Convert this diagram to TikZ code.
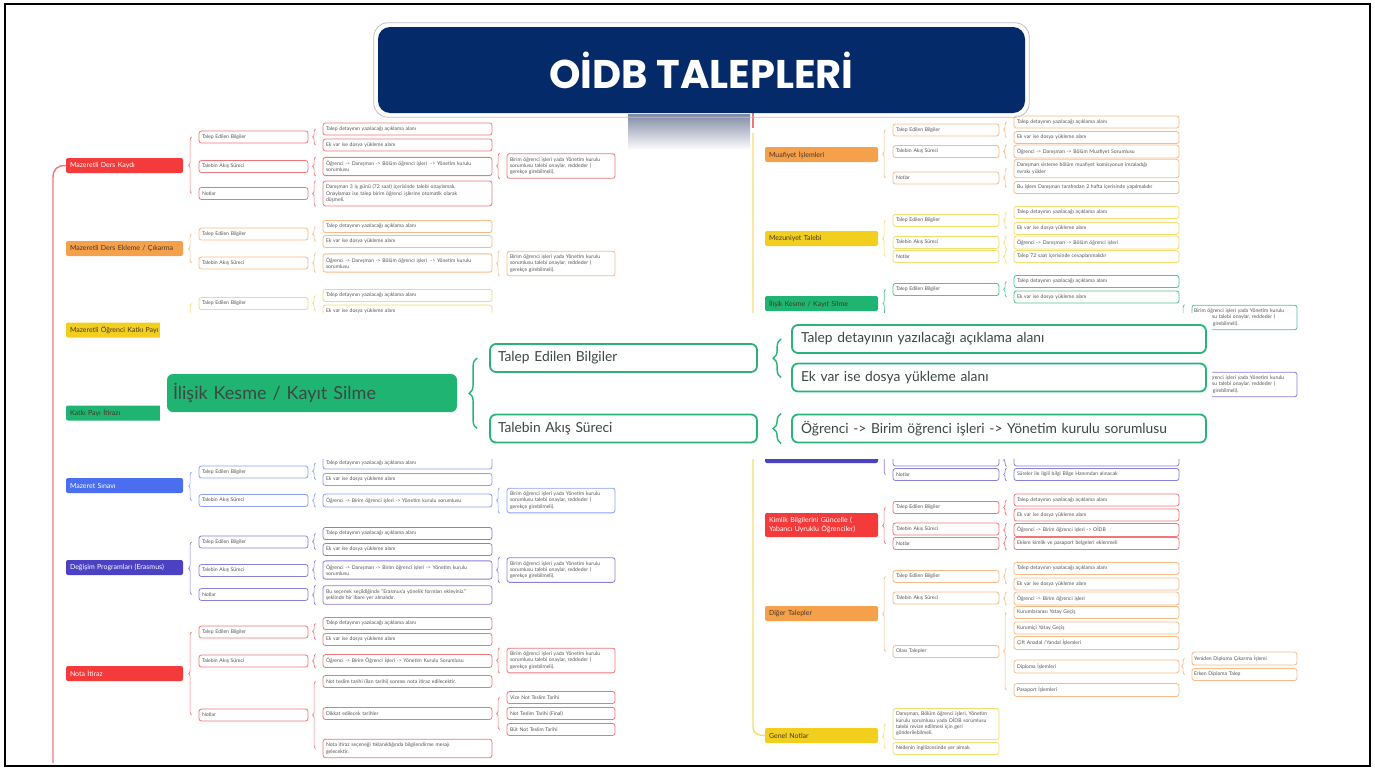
\documentclass[tikz,border=0pt]{standalone}
\usepackage{fontspec}
\setmainfont{Lato}
\newfontfamily\titlefont{Poppins}
\usepackage{tikz}
\usetikzlibrary{calc,shapes,backgrounds,positioning,decorations.pathreplacing}
\definecolor{navy}{RGB}{5,42,105}
\definecolor{redbr}{RGB}{244,58,58}
\definecolor{redln}{RGB}{240,118,122}
\definecolor{orgbr}{RGB}{245,160,75}
\definecolor{orgln}{RGB}{247,186,135}
\definecolor{ylwbr}{RGB}{242,207,30}
\definecolor{ylwln}{RGB}{244,220,110}
\definecolor{grnbr}{RGB}{32,180,115}
\definecolor{grnln}{RGB}{80,196,145}
\definecolor{grnov}{RGB}{40,180,120}
\definecolor{blubr}{RGB}{75,110,240}
\definecolor{bluln}{RGB}{140,160,240}
\definecolor{indbr}{RGB}{75,65,195}
\definecolor{indln}{RGB}{135,128,218}
\definecolor{txtgray}{RGB}{85,85,85}
\definecolor{brtxt}{RGB}{70,55,40}
\definecolor{ovtxt}{RGB}{60,72,66}
\definecolor{gradtop}{RGB}{128,138,165}
\newcommand{\fsm}{\fontsize{5.1}{6.3}\selectfont}
\newcommand{\fmain}{\fontsize{7}{9}\selectfont}
\newcommand{\fov}{\fontsize{13.8}{16}\selectfont}
\newcommand{\brmany}[3]{\draw[brc=#1] ([xshift=-7pt]#3.west) -- ([xshift=-7pt]#2.west);}
\newcommand{\brone}[2]{\draw[brc=#1] ([xshift=-7pt]#2.south west) -- ([xshift=-7pt]#2.north west);}

\begin{document}
\begin{tikzpicture}[x=1pt,y=-1pt,
  lmain/.style={fill=#1, rounded corners=2pt, text width=109pt, inner xsep=4pt, inner ysep=3pt, minimum height=15pt, align=left, font=\fmain},
  rmain/.style={lmain=#1, text width=105pt},
  sub/.style={draw=#1, fill=white, line width=0.8pt, rounded corners=2.5pt, inner xsep=3pt, inner ysep=3.7pt, minimum height=12pt, align=left, font=\fsm, text=txtgray},
  lvtwo/.style={text width=103pt},
  lvthree/.style={text width=163pt},
  lvfour/.style={text width=102pt},
  rvtwo/.style={text width=100pt},
  rvthree/.style={text width=159pt},
  rvfour/.style={text width=101pt, inner xsep=2pt},
  brc/.style={decorate, decoration={brace, amplitude=3pt}, draw=#1, line width=0.7pt},
  trunk/.style={draw=#1, line width=1.4pt},
  ovmain/.style={fill=grnbr, rounded corners=6pt, text width=278pt, inner xsep=6pt, minimum height=38pt, align=left, font=\fontsize{18}{20}\selectfont, text=ovtxt},
  ovbox/.style={draw=grnov, line width=1.8pt, fill=white, rounded corners=6pt, inner xsep=8pt, minimum height=28pt, align=left, font=\fov, text=ovtxt},
  obrc/.style={decorate, decoration={brace, amplitude=8pt}, draw=grnov, line width=1.4pt},
  titlebox/.style={fill=navy, rounded corners=12pt, minimum width=647pt, minimum height=86pt, text=white, font=\titlefont\bfseries\fontsize{40}{44}\selectfont},
 ]
\useasboundingbox (0,0) rectangle (1375,771);

\node[lmain=redbr, text=white] (dk) at (124.5,165.5) {Mazeretli Ders Kaydı};
\node[lmain=orgbr, text=brtxt] (de) at (124.5,248.5) {Mazeretli Ders Ekleme / Çıkarma};
\node[lmain=ylwbr, text=brtxt] (kp) at (124.5,330) {Mazeretli Öğrenci Katkı Payı};
\node[lmain=grnbr, text=brtxt] (ki) at (124.5,413) {Katkı Payı İtirazı};
\node[lmain=blubr, text=white] (ms) at (124.5,485.5) {Mazeret Sınavı};
\node[lmain=indbr, text=white] (dp) at (124.5,567.5) {Değişim Programları (Erasmus)};
\node[lmain=redbr, text=white] (ni) at (124.5,673.5) {Nota İtiraz};

\node[sub=redln, lvtwo] (dk1) at (253.5,137) {Talep Edilen Bilgiler};
\node[sub=redln, lvtwo] (dk2) at (253.5,166.5) {Talebin Akış Süreci};
\node[sub=redln, lvtwo] (dk3) at (253.5,193.5) {Notlar};
\node[sub=orgln, lvtwo] (de1) at (253.5,234) {Talep Edilen Bilgiler};
\node[sub=orgln, lvtwo] (de2) at (253.5,263) {Talebin Akış Süreci};
\node[sub=ylwln, lvtwo] (kp1) at (253.5,303.5) {Talep Edilen Bilgiler};
\node[sub=bluln, lvtwo] (ms1) at (253.5,472) {Talep Edilen Bilgiler};
\node[sub=bluln, lvtwo] (ms2) at (253.5,500.5) {Talebin Akış Süreci};
\node[sub=indln, lvtwo] (dp1) at (253.5,542) {Talep Edilen Bilgiler};
\node[sub=indln, lvtwo] (dp2) at (253.5,570.5) {Talebin Akış Süreci};
\node[sub=indln, lvtwo] (dp3) at (253.5,594.5) {Notlar};
\node[sub=redln, lvtwo] (ni1) at (253.5,632) {Talep Edilen Bilgiler};
\node[sub=redln, lvtwo] (ni2) at (253.5,661) {Talebin Akış Süreci};
\node[sub=redln, lvtwo] (ni3) at (253.5,715) {Notlar};

\node[sub=redln, lvthree] (dk11) at (407.5,129) {Talep detayının yazılacağı açıklama alanı};
\node[sub=redln, lvthree] (dk12) at (407.5,145) {Ek var ise dosya yükleme alanı};
\node[sub=redln, lvthree] (dk21) at (407.5,166.5) {Öğrenci -> Danışman -> Bölüm öğrenci işleri \ -> Yönetim kurulu\\sorumlusu};
\node[sub=redln, lvthree] (dk31) at (407.5,193.5) {Danışman 3 iş günü (72 saat) içerisinde talebi onaylamalı.\\Onaylamaz ise talep birim öğrenci işlerine otomatik olarak\\düşmeli.};
\node[sub=orgln, lvthree] (de11) at (407.5,226.5) {Talep detayının yazılacağı açıklama alanı};
\node[sub=orgln, lvthree] (de12) at (407.5,241.5) {Ek var ise dosya yükleme alanı};
\node[sub=orgln, lvthree] (de21) at (407.5,263) {Öğrenci -> Danışman -> Bölüm öğrenci işleri \ -> Yönetim kurulu\\sorumlusu};
\node[sub=ylwln, lvthree] (kp11) at (407.5,295.5) {Talep detayının yazılacağı açıklama alanı};
\node[sub=ylwln, lvthree] (kp12) at (407.5,311) {Ek var ise dosya yükleme alanı};
\node[sub=bluln, lvthree] (ms11) at (407.5,463) {Talep detayının yazılacağı açıklama alanı};
\node[sub=bluln, lvthree] (ms12) at (407.5,479.5) {Ek var ise dosya yükleme alanı};
\node[sub=bluln, lvthree] (ms21) at (407.5,500.5) {Öğrenci -> Birim öğrenci işleri -> Yönetim kurulu sorumlusu};
\node[sub=indln, lvthree] (dp11) at (407.5,533.5) {Talep detayının yazılacağı açıklama alanı};
\node[sub=indln, lvthree] (dp12) at (407.5,549.5) {Ek var ise dosya yükleme alanı};
\node[sub=indln, lvthree] (dp21) at (407.5,570) {Öğrenci -> Danışman -> Birim öğrenci işleri -> Yönetim kurulu\\sorumlusu};
\node[sub=indln, lvthree] (dp31) at (407.5,595) {Bu seçenek seçildiğinde "Erasmus'a yönelik formları ekleyiniz."\\şeklinde bir ibare yer almalıdır.};
\node[sub=redln, lvthree] (ni11) at (407.5,623.5) {Talep detayının yazılacağı açıklama alanı};
\node[sub=redln, lvthree] (ni12) at (407.5,639.5) {Ek var ise dosya yükleme alanı};
\node[sub=redln, lvthree] (ni21) at (407.5,661) {Öğrenci -> Birim Öğrenci İşleri -> Yönetim Kurulu Sorumlusu};
\node[sub=redln, lvthree] (ni31) at (407.5,681.5) {Not teslim tarihi (ilan tarihi) sonrası nota itiraz edilecektir.};
\node[sub=redln, lvthree] (ni32) at (407.5,713.5) {Dikkat edilecek tarihler};
\node[sub=redln, lvthree] (ni33) at (407.5,748.5) {Nota itiraz seçeneği tıklanıldığında bilgilendirme mesajı\\gelecektir.};

\node[sub=redln, lvfour] (dk211) at (561,166) {Birim öğrenci işleri yada Yönetim kurulu\\sorumlusu talebi onaylar, reddeder (\\gerekçe girebilmeli).};
\node[sub=orgln, lvfour] (de211) at (561,263.5) {Birim öğrenci işleri yada Yönetim kurulu\\sorumlusu talebi onaylar, reddeder (\\gerekçe girebilmeli).};
\node[sub=bluln, lvfour] (ms211) at (561,500.5) {Birim öğrenci işleri yada Yönetim kurulu\\sorumlusu talebi onaylar, reddeder (\\gerekçe girebilmeli).};
\node[sub=indln, lvfour] (dp211) at (561,570) {Birim öğrenci işleri yada Yönetim kurulu\\sorumlusu talebi onaylar, reddeder (\\gerekçe girebilmeli).};
\node[sub=redln, lvfour] (ni211) at (561,660.5) {Birim öğrenci işleri yada Yönetim kurulu\\sorumlusu talebi onaylar, reddeder (\\gerekçe girebilmeli).};
\node[sub=redln, lvfour] (ni321) at (561,697.5) {Vize Not Teslim Tarihi};
\node[sub=redln, lvfour] (ni322) at (561,713.5) {Not Teslim Tarihi (Final)};
\node[sub=redln, lvfour] (ni323) at (561,729.5) {Büt Not Teslim Tarihi};

\node[rmain=orgbr, text=brtxt] (mi) at (821.5,154.5) {Muafiyet İşlemleri};
\node[rmain=ylwbr, text=brtxt] (mt) at (821.5,238.5) {Mezuniyet Talebi};
\node[rmain=grnbr, text=brtxt] (ik) at (821.5,303.5) {İlişik Kesme / Kayıt Silme};
\node[rmain=indbr] (hb) at (821.5,455.5) {};
\node[rmain=redbr, text=white, minimum height=24pt] (kb) at (821.5,525) {Kimlik Bilgilerini Güncelle (\\Yabancı Uyruklu Öğrenciler)};
\node[rmain=orgbr, text=brtxt] (dt) at (821.5,613.5) {Diğer Talepler};
\node[rmain=ylwbr, text=brtxt] (gn) at (821.5,735.5) {Genel Notlar};

\node[sub=orgln, rvtwo] (mi1) at (946,130) {Talep Edilen Bilgiler};
\node[sub=orgln, rvtwo] (mi2) at (946,151.5) {Talebin Akış Süreci};
\node[sub=orgln, rvtwo] (mi3) at (946,178) {Notlar};
\node[sub=ylwln, rvtwo] (mt1) at (946,220.5) {Talep Edilen Bilgiler};
\node[sub=ylwln, rvtwo] (mt2) at (946,242.5) {Talebin Akış Süreci};
\node[sub=ylwln, rvtwo] (mt3) at (946,256.5) {Notlar};
\node[sub=grnln, rvtwo] (ik1) at (946,289.5) {Talep Edilen Bilgiler};
\node[sub=indln, rvtwo] (hb1) at (946,460) {};
\node[sub=indln, rvtwo] (hb2) at (946,474.5) {Notlar};
\node[sub=redln, rvtwo] (kb1) at (946,507.5) {Talep Edilen Bilgiler};
\node[sub=redln, rvtwo] (kb2) at (946,529) {Talebin Akış Süreci};
\node[sub=redln, rvtwo] (kb3) at (946,543.5) {Notlar};
\node[sub=orgln, rvtwo] (dt1) at (946,576.5) {Talep Edilen Bilgiler};
\node[sub=orgln, rvtwo] (dt2) at (946,598) {Talebin Akış Süreci};
\node[sub=orgln, rvtwo] (dt3) at (946,651.5) {Olası Talepler};
\node[sub=ylwln, rvtwo] (gn1) at (946,724) {Danışman, Bölüm öğrenci işleri, Yönetim\\kurulu sorumlusu yada OİDB sorumlusu\\talebi revize edilmesi için geri\\gönderilebilmeli.};
\node[sub=ylwln, rvtwo] (gn2) at (946,748.5) {Nedenin ingilizcesinde yer almalı.};

\node[sub=orgln, rvthree] (mi11) at (1096.5,122) {Talep detayının yazılacağı açıklama alanı};
\node[sub=orgln, rvthree] (mi12) at (1096.5,137.5) {Ek var ise dosya yükleme alanı};
\node[sub=orgln, rvthree] (mi21) at (1096.5,151.5) {Öğrenci -> Danışman -> Bölüm Muafiyet Sorumlusu};
\node[sub=orgln, rvthree] (mi31) at (1096.5,168.5) {Danışman sisteme bölüm muafiyet komisyonun imzaladığı\\evrakı yükler};
\node[sub=orgln, rvthree] (mi32) at (1096.5,187.5) {Bu işlem Danışman tarafından 2 hafta içerisinde yapılmalıdır};
\node[sub=ylwln, rvthree] (mt11) at (1096.5,212.5) {Talep detayının yazılacağı açıklama alanı};
\node[sub=ylwln, rvthree] (mt12) at (1096.5,228.5) {Ek var ise dosya yükleme alanı};
\node[sub=ylwln, rvthree] (mt21) at (1096.5,242.5) {Öğrenci -> Danışman -> Bölüm öğrenci işleri};
\node[sub=ylwln, rvthree] (mt31) at (1096.5,256.5) {Talep 72 saat içerisinde cevaplanmalıdır};
\node[sub=grnln, rvthree] (ik11) at (1096.5,281.5) {Talep detayının yazılacağı açıklama alanı};
\node[sub=grnln, rvthree] (ik12) at (1096.5,297) {Ek var ise dosya yükleme alanı};
\node[sub=indln, rvthree] (hb11) at (1096.5,460) {};
\node[sub=indln, rvthree] (hb21) at (1096.5,474.5) {Süreler ile ilgili bilgi Bilge Hanımdan alınacak};
\node[sub=redln, rvthree] (kb11) at (1096.5,500) {Talep detayının yazılacağı açıklama alanı};
\node[sub=redln, rvthree] (kb12) at (1096.5,515) {Ek var ise dosya yükleme alanı};
\node[sub=redln, rvthree] (kb21) at (1096.5,530) {Öğrenci -> Birim öğrenci işleri -> OİDB};
\node[sub=redln, rvthree] (kb31) at (1096.5,543.5) {Eklere kimlik ve pasaport belgeleri eklenmeli};
\node[sub=orgln, rvthree] (dt11) at (1096.5,568.5) {Talep detayının yazılacağı açıklama alanı};
\node[sub=orgln, rvthree] (dt12) at (1096.5,584) {Ek var ise dosya yükleme alanı};
\node[sub=orgln, rvthree] (dt21) at (1096.5,598.5) {Öğrenci -> Birim öğrenci işleri};
\node[sub=orgln, rvthree] (dt31) at (1096.5,612.5) {Kurumlararası Yatay Geçiş};
\node[sub=orgln, rvthree] (dt32) at (1096.5,628) {Kurumiçi Yatay Geçiş};
\node[sub=orgln, rvthree] (dt33) at (1096.5,643) {Çift Anadal /Yandal İşlemleri};
\node[sub=orgln, rvthree] (dt34) at (1096.5,666.5) {Diploma İşlemleri};
\node[sub=orgln, rvthree] (dt35) at (1096.5,690) {Pasaport İşlemleri};

\node[sub=grnln, rvfour] (ikx) at (1244.5,317.5) {Birim öğrenci işleri yada Yönetim kurulu\\sorumlusu talebi onaylar, reddeder (\\gerekçe girebilmeli).};
\node[sub=indln, rvfour] (hbx) at (1244.5,384.5) {Birim öğrenci işleri yada Yönetim kurulu\\sorumlusu talebi onaylar, reddeder (\\gerekçe girebilmeli).};
\node[sub=orgln, rvfour] (dt341) at (1244.5,658.5) {Yeniden Diploma Çıkarma İşlemi};
\node[sub=orgln, rvfour] (dt342) at (1244.5,674.5) {Erken Diploma Talep};

\coordinate (ltop) at (53,178);
\coordinate (lbot) at (53,763);
\coordinate (rtop) at (753,133);
\coordinate (rbot) at (753,727);
\coordinate (rtick) at (753,112);
\coordinate (rtickend) at (753,128);
\coordinate (kpend) at (192,356.5);
\coordinate (ikend) at (886,317.5);
\coordinate (hbtop) at (886,436.5);

\draw[trunk=redln] (lbot) -- (ltop) .. controls (53,169) and (57,165.5) .. (dk.west);
\draw[trunk=ylwln] (rtop) -- (rbot) .. controls (753,733) and (757,735.5) .. (gn.west);
\draw[trunk=redln] (rtick) -- (rtickend);

\brmany{redln}{dk1}{dk3}
\brmany{redln}{dk11}{dk12}
\brone{redln}{dk21}
\brone{redln}{dk31}
\brone{redln}{dk211}
\brmany{orgln}{de1}{de2}
\brmany{orgln}{de11}{de12}
\brone{orgln}{de21}
\brone{orgln}{de211}
\draw[brc=ylwln] (kpend) -- ([xshift=-7pt]kp1.west);
\brmany{ylwln}{kp11}{kp12}
\brmany{bluln}{ms1}{ms2}
\brmany{bluln}{ms11}{ms12}
\brone{bluln}{ms21}
\brone{bluln}{ms211}
\brmany{indln}{dp1}{dp3}
\brmany{indln}{dp11}{dp12}
\brone{indln}{dp21}
\brone{indln}{dp31}
\brone{indln}{dp211}
\brmany{redln}{ni1}{ni3}
\brmany{redln}{ni11}{ni12}
\brone{redln}{ni21}
\brmany{redln}{ni31}{ni33}
\brone{redln}{ni211}
\brmany{redln}{ni321}{ni323}

\brmany{orgln}{mi1}{mi3}
\brmany{orgln}{mi11}{mi12}
\brone{orgln}{mi21}
\brmany{orgln}{mi31}{mi32}
\brmany{ylwln}{mt1}{mt3}
\brmany{ylwln}{mt11}{mt12}
\brone{ylwln}{mt21}
\brone{ylwln}{mt31}
\draw[brc=grnln] (ikend) -- ([xshift=-7pt]ik1.west);
\brmany{grnln}{ik11}{ik12}
\brone{grnln}{ikx}
\draw[brc=indln] ([xshift=-7pt]hb2.west) -- (hbtop);
\brone{indln}{hb11}
\brone{indln}{hb21}
\brmany{redln}{kb1}{kb3}
\brmany{redln}{kb11}{kb12}
\brone{redln}{kb21}
\brone{redln}{kb31}
\brmany{orgln}{dt1}{dt3}
\brmany{orgln}{dt11}{dt12}
\brone{orgln}{dt21}
\brmany{orgln}{dt31}{dt35}
\brmany{orgln}{dt341}{dt342}
\brmany{ylwln}{gn1}{gn2}

\fill[white] (160,313) rectangle (1212,459);
\node[ovmain] (ov) at (312,393) {İlişik Kesme / Kayıt Silme};
\node[ovbox, text width=251pt] (ov1) at (623.5,358) {Talep Edilen Bilgiler};
\node[ovbox, text width=251pt] (ov2) at (623.5,428.5) {Talebin Akış Süreci};
\node[ovbox, text width=396pt, inner xsep=9pt] (ov11) at (999,339) {Talep detayının yazılacağı açıklama alanı};
\node[ovbox, text width=396pt, inner xsep=9pt] (ov12) at (999,377.5) {Ek var ise dosya yükleme alanı};
\node[ovbox, text width=396pt, inner xsep=9pt] (ov21) at (999,428.5) {Öğrenci -> Birim öğrenci işleri -> Yönetim kurulu sorumlusu};
\draw[obrc] ([xshift=-12pt]ov2.west) -- ([xshift=-12pt]ov1.west);
\draw[obrc] ([xshift=-10pt]ov12.west) -- ([xshift=-10pt]ov11.west);
\draw[obrc] ([xshift=-10pt]ov21.south west) -- ([xshift=-10pt]ov21.north west);

\shade[top color=gradtop, bottom color=white] (628,114) rectangle (750,150);
\node[titlebox] (title) at (701.5,70) {OİDB TALEPLERİ};
\draw[black!25, line width=0.8pt, rounded corners=14pt] ($(title.south west)+(-4,4)$) rectangle ($(title.north east)+(4,-4)$);

\draw[line width=2.5pt] (5,4) rectangle (1370,766);
\end{tikzpicture}
\end{document}
